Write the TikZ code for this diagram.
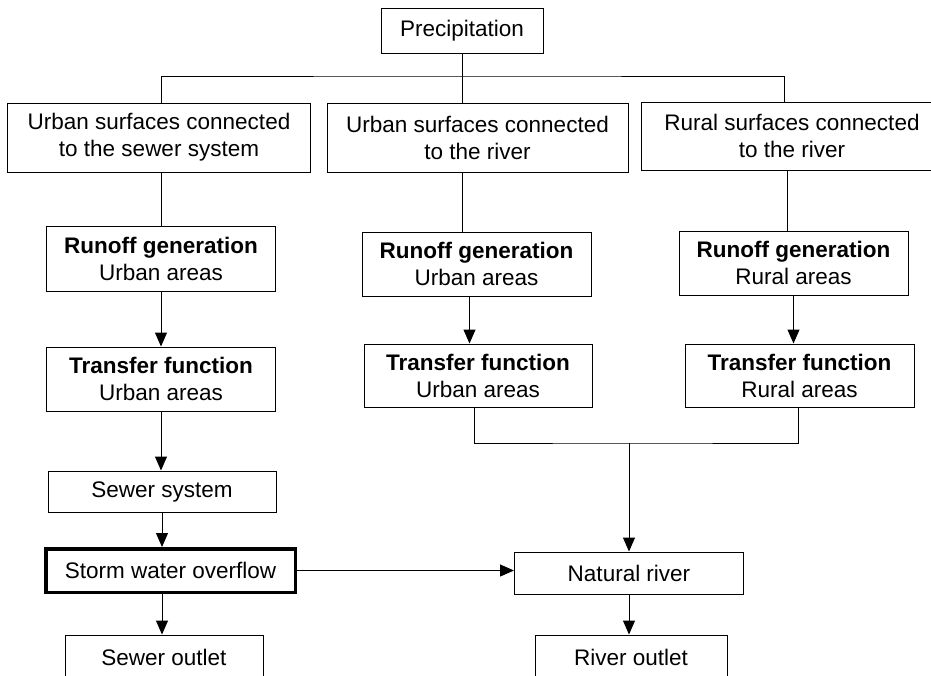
\documentclass[tikz,border=0pt]{standalone}
\usepackage{fontspec}
\setmainfont{Liberation Sans}
\usetikzlibrary{arrows.meta}

\begin{document}
\begin{tikzpicture}[x=1pt,y=-1pt,>={Triangle[length=14pt,width=12pt]},
 n/.style={draw,line width=1pt,align=center,inner sep=0pt,font=\fontsize{22.5}{27}\selectfont},
 l/.style={draw,line width=1pt},
 a/.style={->,draw,line width=1pt}]
\useasboundingbox (0,0) rectangle (931,675);
\clip (0,0) rectangle (931,675);
% top
\node[n,minimum width=162pt,minimum height=45pt] (prec) at (462,30.5) {Precipitation};
\node[n,minimum width=303pt,minimum height=69pt] (surf1) at (159,137.5) {Urban surfaces connected\\to the sewer system};
\node[n,minimum width=301pt,minimum height=69pt] (surf2) at (477.5,137.5) {Urban surfaces connected\\to the river};
\node[n,minimum width=301pt,minimum height=68pt] (surf3) at (792,136) {Rural surfaces connected\\to the river};
% runoff and transfer
\node[n,minimum width=229pt,minimum height=65pt] (rg1) at (161,258.5) {\textbf{Runoff generation}\\Urban areas};
\node[n,minimum width=229pt,minimum height=64pt] (rg2) at (476.5,264) {\textbf{Runoff generation}\\Urban areas};
\node[n,minimum width=229pt,minimum height=64pt] (rg3) at (793.5,263) {\textbf{Runoff generation}\\Rural areas};
\node[n,minimum width=229pt,minimum height=64pt] (tf1) at (161,379) {\textbf{Transfer function}\\Urban areas};
\node[n,minimum width=228pt,minimum height=63pt] (tf2) at (478,375.5) {\textbf{Transfer function}\\Urban areas};
\node[n,minimum width=229pt,minimum height=63pt] (tf3) at (799.5,375.5) {\textbf{Transfer function}\\Rural areas};
% sewer and river
\node[n,minimum width=228pt,minimum height=41pt] (sewer) at (162,491.5) {Sewer system};
\node[n,line width=3.5pt,minimum width=249.5pt,minimum height=43.5pt] (storm) at (170.5,570.5) {Storm water overflow};
\node[n,minimum width=229pt,minimum height=42pt] (river) at (629,573) {Natural river};
\node[n,minimum width=198pt,minimum height=44pt] (sout) at (164,657) {Sewer outlet};
\node[n,minimum width=192pt,minimum height=44pt] (rout) at (631,657) {River outlet};
\coordinate (bus) at (462,76);
\coordinate (mj) at (629,443);
% connectors
\draw[l] (prec.south) -- (prec.south |- surf2.north);
\draw[l] (surf1.north -| rg1) |- (bus) -| ([xshift=-8pt]surf3.north);
\draw[l] (surf1.south -| rg1) -- (rg1.north);
\draw[l] (prec.south |- surf2.south) -- (prec.south |- rg2.north);
\draw[l] ([xshift=-5pt]surf3.south) -- ([xshift=-5pt]surf3.south |- rg3.north);
\draw[a] (rg1.south) -- (tf1.north);
\draw[a] ([xshift=-7pt]rg2.south) -- ([xshift=-7pt]rg2.south |- tf2.north);
\draw[a] (rg3.south) -- (rg3.south |- tf3.north);
\draw[a] (tf1.south) -- (tf1.south |- sewer.north);
\draw[l] ([xshift=-4pt]tf2.south) |- (mj) -| ([xshift=-1.5pt]tf3.south);
\draw[a] (mj) -- (river.north);
\draw[a] (sewer.south) -- (sewer.south |- storm.north);
\draw[a] (storm.east) -- (storm.east -| river.west);
\draw[a] (sewer.south |- storm.south) -- (sewer.south |- sout.north);
\draw[a] (river.south) -- (river.south |- rout.north);
\end{tikzpicture}
\end{document}
